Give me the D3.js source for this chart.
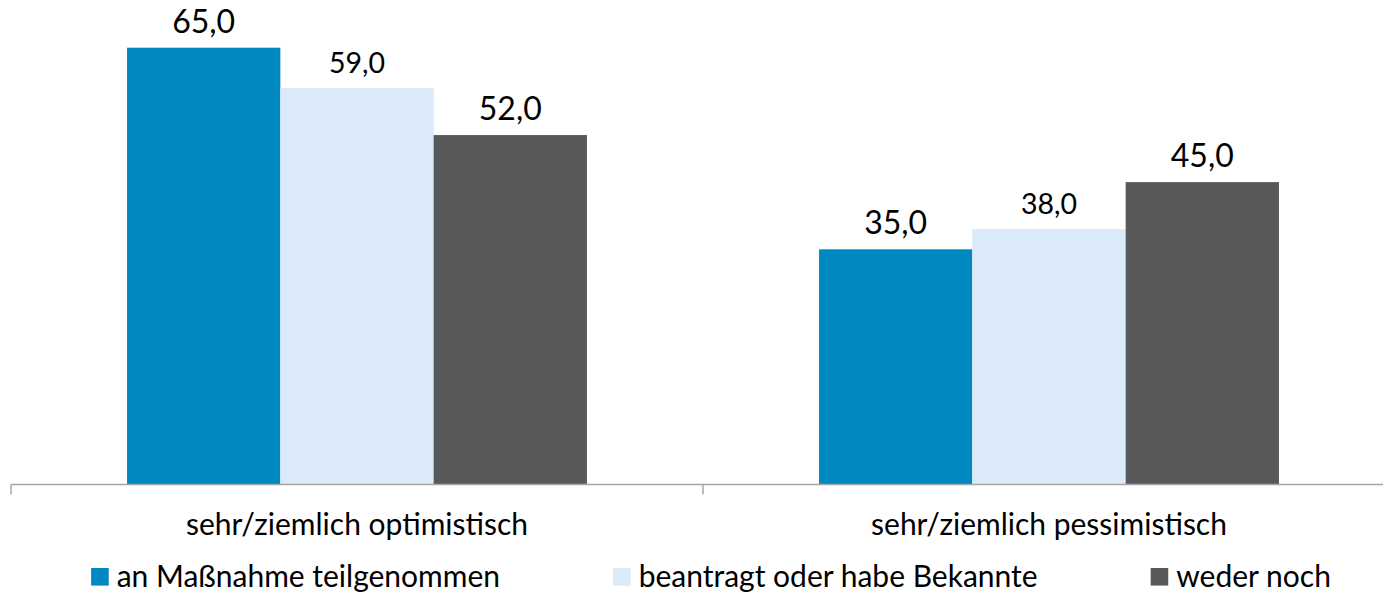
<!DOCTYPE html>
<html>
<head>
<meta charset="utf-8">
<script src="https://cdn.jsdelivr.net/npm/d3@7"></script>
<style>
  body { margin: 0; background: #fff; }
  svg { display: block; font-family: Lato, "Open Sans", sans-serif; }
</style>
</head>
<body>
<div id="chart"></div>
<script>
const categories = ['sehr/ziemlich optimistisch', 'sehr/ziemlich pessimistisch'];
const seriesNames = ['an Maßnahme teilgenommen', 'beantragt oder habe Bekannte', 'weder noch'];
const teilgenommen = [65.0, 35.0];
const beantragt = [59.0, 38.0];
const wederNoch = [52.0, 45.0];
const colors = ['#0089c1', '#daeaf8', '#59595b'];
const labelSizes = [32, 28.5, 32];

const width = 1383;
const height = 593;
const baseY = 484.5;

const seriesValues = [teilgenommen, beantragt, wederNoch];

const svg = d3.select('#chart')
  .append('svg')
  .attr('width', width)
  .attr('height', height);

const x0 = d3.scaleBand()
  .domain(categories)
  .range([11, 1395])
  .paddingInner(0)
  .paddingOuter(0);

const x1 = d3.scaleBand()
  .domain(seriesNames)
  .range([0, x0.bandwidth()])
  .paddingInner(0)
  .paddingOuter(0.757);

const y = d3.scaleLinear()
  .domain([0, 65])
  .range([baseY, baseY - 65 * 6.72]);

// bars
const groups = svg.selectAll('g.cat')
  .data(categories)
  .enter()
  .append('g')
  .attr('class', 'cat')
  .attr('transform', (c) => `translate(${x0(c)},0)`);

const rows = (c, ci) => seriesNames.map((s, si) => ({ s, si, v: seriesValues[si][ci] }));

groups.selectAll('rect')
  .data(rows)
  .enter()
  .append('rect')
  .attr('x', (d) => x1(d.s))
  .attr('y', (d) => y(d.v))
  .attr('width', x1.bandwidth())
  .attr('height', (d) => baseY - y(d.v))
  .attr('fill', (d) => colors[d.si]);

groups.selectAll('text.val')
  .data(rows)
  .enter()
  .append('text')
  .attr('class', 'val')
  .attr('x', (d) => x1(d.s) + x1.bandwidth() / 2)
  .attr('y', (d) => y(d.v) - 15)
  .attr('text-anchor', 'middle')
  .attr('font-size', (d) => labelSizes[d.si])
  .attr('fill', '#000')
  .text((d) => d3.format('.1f')(d.v).replace('.', ','));

// axis line with boundary ticks
const axisColor = '#a6a6a6';
const bounds = [x0.range()[0]].concat(categories.map((c) => x0(c) + x0.bandwidth()));

svg.append('line')
  .attr('x1', x0.range()[0])
  .attr('x2', x0.range()[1])
  .attr('y1', baseY)
  .attr('y2', baseY)
  .attr('stroke', axisColor)
  .attr('stroke-width', 1.5);

svg.selectAll('line.tick')
  .data(bounds)
  .enter()
  .append('line')
  .attr('class', 'tick')
  .attr('x1', (d) => d)
  .attr('x2', (d) => d)
  .attr('y1', baseY)
  .attr('y2', baseY + 10)
  .attr('stroke', axisColor)
  .attr('stroke-width', 1.5);

svg.selectAll('text.catlabel')
  .data(categories)
  .enter()
  .append('text')
  .attr('class', 'catlabel')
  .attr('x', (c) => x0(c) + x0.bandwidth() / 2)
  .attr('y', 535)
  .attr('text-anchor', 'middle')
  .attr('font-size', 30)
  .attr('fill', '#000')
  .text((c) => c);

// legend
const legend = svg.append('g').attr('class', 'legend');
const sw = 17.6;
const gapText = 8;
const gapItem = 113;

const items = legend.selectAll('g.item')
  .data(seriesNames)
  .enter()
  .append('g')
  .attr('class', 'item');

items.append('rect')
  .attr('x', 0)
  .attr('y', 568)
  .attr('width', sw)
  .attr('height', sw)
  .attr('fill', (d, i) => colors[i]);

items.append('text')
  .attr('x', sw + gapText)
  .attr('y', 587)
  .attr('font-size', 30)
  .attr('fill', '#000')
  .text((d) => d);

const widths = [];
items.each(function () {
  widths.push(this.getBBox().width);
});
const total = d3.sum(widths) + gapItem * (widths.length - 1);
let cx = 711 - total / 2;
items.attr('transform', (d, i) => {
  const t = `translate(${cx},0)`;
  cx += widths[i] + gapItem;
  return t;
});
</script>
</body>
</html>
